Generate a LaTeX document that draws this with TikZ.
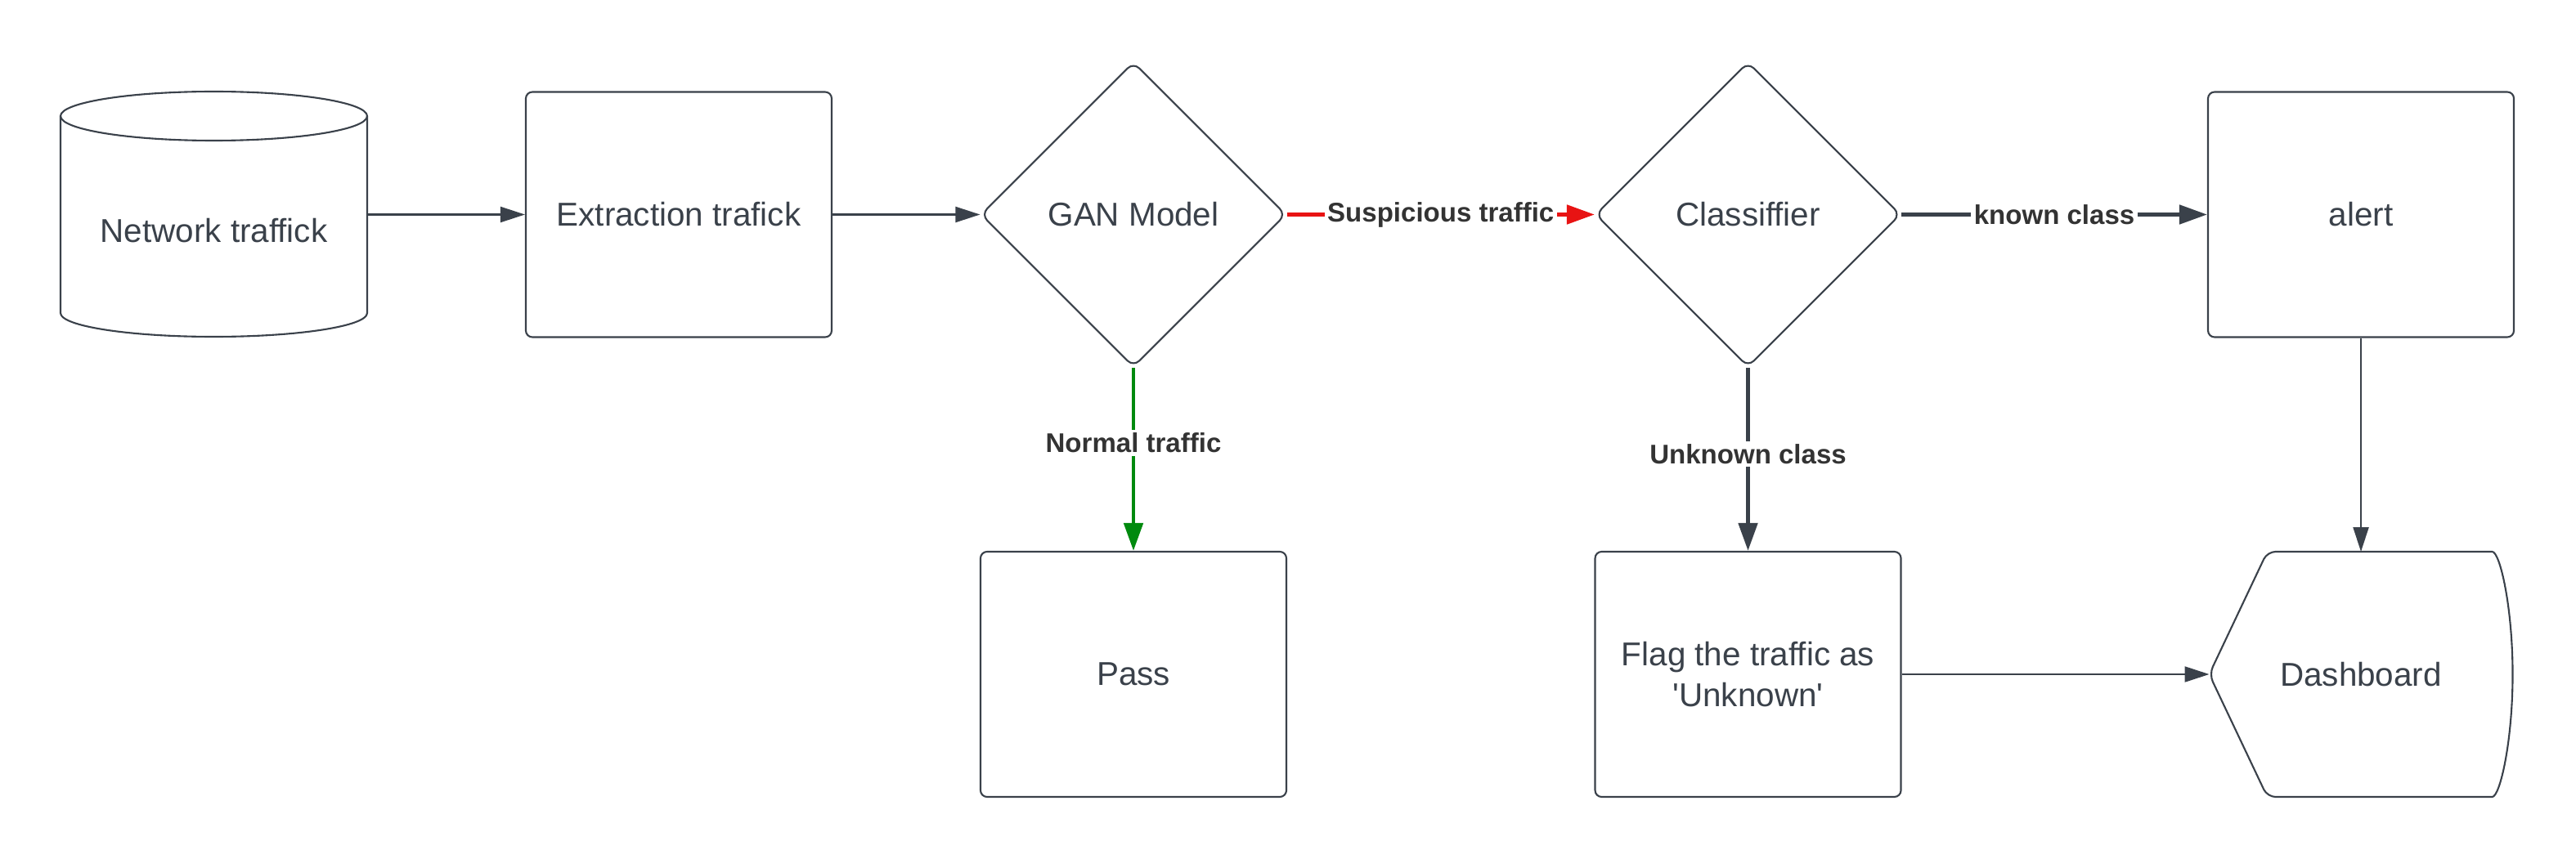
\documentclass[tikz,border=0pt]{standalone}
\usepackage{fontspec}
\setmainfont{Liberation Sans}
\usetikzlibrary{arrows.meta,shapes.geometric}
\definecolor{ink}{HTML}{3A414A}
\definecolor{lbl}{HTML}{333333}
\definecolor{sus}{HTML}{E81313}
\definecolor{ok}{HTML}{008A0E}

\begin{document}
\begin{tikzpicture}[
	box/.style={draw=ink, line width=0.6pt, rounded corners=0.8mm, minimum width=3.74cm, minimum height=3cm, text=ink, font=\fontsize{11.5}{14.2}\selectfont, align=center},
	decide/.style={diamond, draw=ink, line width=0.6pt, rounded corners=1mm, minimum width=3.73cm, minimum height=3.73cm, inner sep=0pt, text=ink, font=\fontsize{11.5}{14.2}\selectfont},
	flow/.style={draw=ink, line width=0.6pt, -{Triangle[length=3mm,width=1.9mm]}},
	branch/.style={line width=1.4pt, -{Triangle[length=3.4mm,width=2.3mm]}},
	tag/.style={fill=white, inner sep=1pt, text=lbl, font=\fontsize{9.4}{11}\selectfont\bfseries}]
			\useasboundingbox (0,0) rectangle (31.5,10.5);
			
			% source
			\node[outer sep=0pt, minimum width=3.75cm, minimum height=2.41cm, label={[text=ink, font=\fontsize{11.5}{14.2}\selectfont, yshift=-2mm]center:Network traffick}] (net) at (2.615,7.875) {};
			\draw[ink, line width=0.6pt] (net.north west) -- (net.south west) arc (180:360:1.875cm and 0.29cm) -- (net.north east);
			\draw[ink, line width=0.6pt] (net.north) ellipse (1.875cm and 0.3cm);
			
			\node[box] (ext) at (8.30,7.875) {Extraction trafick};
			\node[decide] (gan) at (13.86,7.875) {GAN Model};
			\node[decide] (cls) at (21.375,7.875) {Classiffier};
			\node[box] (alert) at (28.87,7.875) {alert};
			
			\node[box] (pass) at (13.86,2.25) {Pass};
			\node[box] (flag) at (21.375,2.25) {Flag the traffic as\\\textquotesingle Unknown\textquotesingle};
			
			% dashboard
			\node[outer sep=0pt, minimum width=3.71cm, minimum height=3cm, text=ink, font=\fontsize{11.5}{14.2}\selectfont] (dash) at (28.87,2.25) {Dashboard};
			\draw[ink, line width=0.6pt, rounded corners=1mm] (dash.west) -- ([xshift=7.1mm]dash.north west) -- ([xshift=-3.5mm]dash.north east) arc (90:-90:3.5mm and 15mm) -- ([xshift=7.1mm]dash.south west) -- cycle;
			
			\draw[flow] (net.east) -- (ext);
			\draw[flow] (ext) -- (gan);
			\draw[branch, sus] (gan) -- node[tag] {Suspicious traffic} (cls);
			\draw[branch, ink] (cls) -- node[tag] {known class} (alert);
			\draw[branch, ok] (gan) -- node[tag, pos=0.41] {Normal traffic} (pass);
			\draw[branch, ink] (cls) -- node[tag, pos=0.47] {Unknown class} (flag);
			\draw[flow] (alert) -- (dash.north);
			\draw[flow] (flag) -- (dash.west);
\end{tikzpicture}
\end{document}
